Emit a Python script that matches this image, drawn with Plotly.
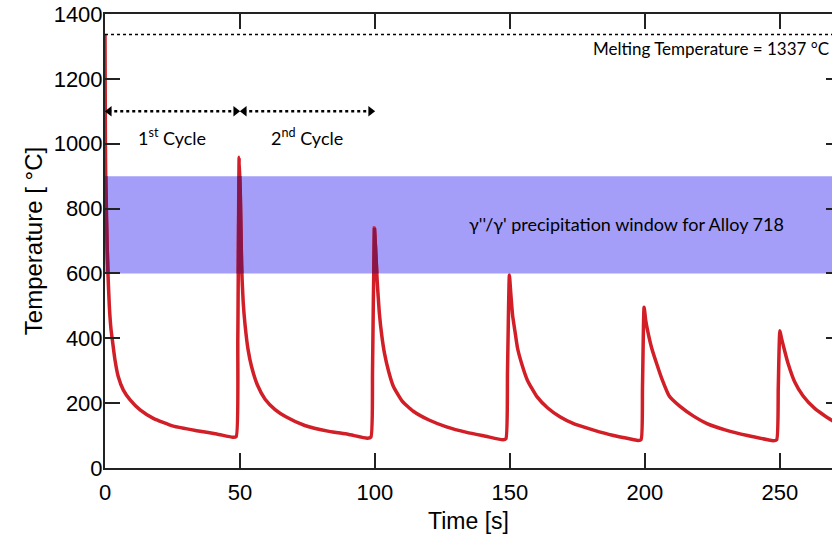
import plotly.graph_objects as go

# ---- data ----
time_s = [0, 0.15, 0.4, 0.8, 1.1, 1.6, 2.2, 2.8, 3.7, 4.9, 6.8, 9.3, 13, 17.9, 25.3, 34, 41.4, 47.3, 48.6, 49.2, 49.7,
          50.1, 50.6, 51.2, 51.9, 53, 54.3, 56.5, 59.3, 63, 67, 74, 83, 90, 97.2, 98.5, 99.1, 99.8,
          100.2, 100.8, 101.6, 102.5, 103.5, 105, 106.8, 110, 114.2, 120, 126.5, 134, 141, 147.4, 148.5, 149.1, 149.8,
          150.3, 151, 151.8, 152.8, 154.3, 156.5, 160, 164, 168.5, 174, 181, 188, 195.5, 197.5, 198.6, 199.1, 199.7,
          200.3, 201.1, 202.5, 204.3, 206.5, 209, 213, 218, 223, 230, 238, 245.5, 247.5, 248.8, 249.4, 250.0,
          250.6, 251.8, 253, 255.5, 258.6, 263, 269, 275]
temp_c = [1337, 1000, 800, 680, 600, 500, 430, 390, 333, 282, 240, 210, 179, 153, 129, 115, 105, 95, 97, 400, 958,
          850, 620, 510, 440, 365, 312, 255, 212, 180, 158, 131, 113, 104, 92, 95, 300, 740,
          680, 580, 480, 410, 355, 300, 252, 207, 175, 148, 127, 110, 98, 87, 90, 300, 595,
          540, 470, 425, 370, 323, 270, 220, 185, 158, 135, 117, 101, 88, 85, 88, 250, 496,
          455, 420, 370, 323, 270, 222, 190, 160, 137, 117, 100, 87, 84, 87, 250, 423,
          400, 360, 323, 265, 222, 183, 148, 125]

melting_temp = 1337
window_low, window_high = 600, 900
cycle_bounds = [0, 50, 100]
cycle_labels = ["1<sup>st</sup> Cycle", "2<sup>nd</sup> Cycle"]
arrow_level = 1100
x_ticks = [0, 50, 100, 150, 200, 250]
y_ticks = [0, 200, 400, 600, 800, 1000, 1200, 1400]

RED = "#d21f27"
BAND = "#a49ef8"
DARK = "#8a1548"
ANN_FONT = "Lato"
LINE_SHAPE = dict(shape="spline", smoothing=0.5)


def clip_to_band(xs, ys, lo, hi):
    """Portions of the polyline lying inside [lo, hi] (for the darker overlay)."""
    ox, oy = [], []
    inside_prev = False
    for i in range(len(xs) - 1):
        x0, y0, x1, y1 = xs[i], ys[i], xs[i + 1], ys[i + 1]
        t0, t1 = 0.0, 1.0
        dy = y1 - y0
        ok = True
        for bound, sign in ((lo, 1), (hi, -1)):
            f0 = sign * (y0 - bound)
            f1 = sign * (y1 - bound)
            if f0 < 0 and f1 < 0:
                ok = False
                break
            if f0 < 0 <= f1:
                t0 = max(t0, f0 / (f0 - f1))
            elif f1 < 0 <= f0:
                t1 = min(t1, f0 / (f0 - f1))
        if not ok or t0 > t1:
            if inside_prev:
                ox.append(None); oy.append(None)
            inside_prev = False
            continue
        ax, ay = x0 + (x1 - x0) * t0, y0 + dy * t0
        bx, by = x0 + (x1 - x0) * t1, y0 + dy * t1
        if not inside_prev:
            ox.append(ax); oy.append(ay)
        ox.append(bx); oy.append(by)
        inside_prev = t1 >= 1.0
        if not inside_prev:
            ox.append(None); oy.append(None)
    return ox, oy


fig = go.Figure()

fig.add_trace(go.Scatter(x=time_s, y=temp_c, mode="lines",
                         line=dict(color=RED, width=3.5, **LINE_SHAPE), hoverinfo="skip"))

bx, by = clip_to_band(time_s, temp_c, window_low, window_high)
fig.add_trace(go.Scatter(x=bx, y=by, mode="lines",
                         line=dict(color=DARK, width=3.5), hoverinfo="skip"))

for i in range(len(cycle_bounds) - 1):
    a, b = cycle_bounds[i], cycle_bounds[i + 1]
    fig.add_trace(go.Scatter(x=[a + 1.2, b - 1.2], y=[arrow_level, arrow_level], mode="lines",
                             line=dict(color="black", width=2.5, dash="dot"), hoverinfo="skip"))
    fig.add_trace(go.Scatter(x=[a + 1.6, b - 1.6], y=[arrow_level, arrow_level], mode="markers",
                             marker=dict(symbol=["triangle-left", "triangle-right"], size=9, color="black"),
                             hoverinfo="skip"))
    fig.add_annotation(x=(a + b) / 2, y=1020, text=cycle_labels[i], showarrow=False,
                       font=dict(family=ANN_FONT, size=18, color="black"))

fig.add_shape(type="rect", xref="x domain", yref="y", x0=0, x1=1, y0=window_low, y1=window_high,
              fillcolor=BAND, line_width=0, layer="below")
fig.add_annotation(x=193.3, y=752, text="γ''/γ' precipitation window for Alloy 718", showarrow=False,
                   font=dict(family=ANN_FONT, size=18, color="black"))

fig.add_shape(type="line", xref="x domain", yref="y", x0=0, x1=1, y0=melting_temp, y1=melting_temp,
              line=dict(color="black", width=1.5, dash="dot"))
fig.add_annotation(xref="paper", x=1, xanchor="right", xshift=-1, y=1295,
                   text=f"Melting Temperature = {melting_temp} °C", showarrow=False,
                   font=dict(family=ANN_FONT, size=17, color="black"))

fig.add_trace(go.Scatter(x=[None], y=[None], yaxis="y2", showlegend=False))

axis_font = dict(family="Liberation Sans, Arial", size=22, color="black")
fig.update_layout(
    width=832, height=539,
    margin=dict(l=105, r=0, t=14, b=71),
    paper_bgcolor="white", plot_bgcolor="white",
    showlegend=False,
    xaxis=dict(range=[0, 269.3], tickvals=x_ticks, ticks="inside", ticklen=15, tickwidth=2,
               tickcolor="#222", showline=True, linewidth=2, linecolor="#222", mirror="ticks",
               showgrid=False, zeroline=False, tickfont=axis_font, automargin=False,
               ticklabelstandoff=4, ticklabeloverflow="allow",
               title=dict(text="Time [s]", font=dict(family="Liberation Sans, Arial", size=23, color="black"),
                          standoff=8)),
    yaxis=dict(range=[0, 1400], tickvals=y_ticks, ticks="inside", ticklen=15, tickwidth=2,
               tickcolor="#222", showline=True, linewidth=2, linecolor="#222",
               showgrid=False, zeroline=False, tickfont=axis_font, automargin=False,
               ticklabelstandoff=-4, ticklabeloverflow="allow",
               title=dict(text="Temperature [ °C]", font=dict(family="Liberation Sans, Arial", size=24, color="black"),
                          standoff=4)),
    yaxis2=dict(range=[0, 1400], tickvals=y_ticks, overlaying="y", side="right", ticks="inside",
                ticklen=6, tickwidth=2, tickcolor="#222", showticklabels=False, showline=False,
                showgrid=False, zeroline=False, automargin=False),
)

# remove the default 8 px page margin so the figure fills the window exactly
fig.write_html("out.html", config={"displayModeBar": False},
               post_script="document.body.style.margin='0px';")
